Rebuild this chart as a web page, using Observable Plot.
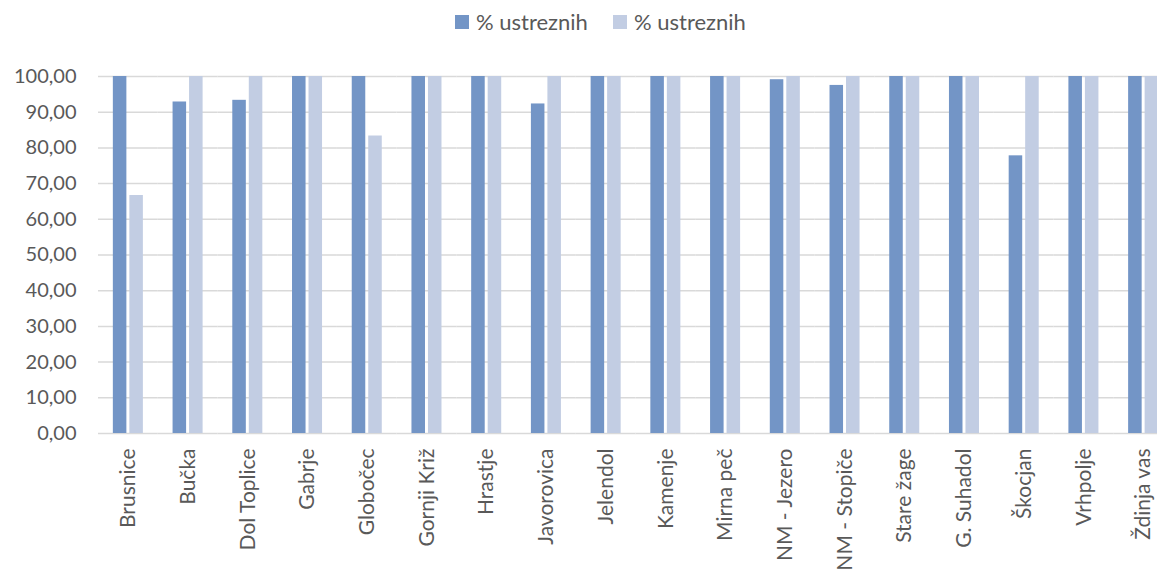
<!DOCTYPE html>
<html><head><meta charset="utf-8">
<script src="https://cdn.jsdelivr.net/npm/d3@7"></script>
<script src="https://cdn.jsdelivr.net/npm/@observablehq/plot@0.6"></script>
<style>
html,body{margin:0;padding:0;background:#fff;overflow:hidden;width:1157px;height:571px;font-family:Lato,"Noto Sans",sans-serif;color:#595959}
#legend{height:46px;position:relative;font-size:22px}
.item{position:absolute;top:8px;display:flex;align-items:center;white-space:nowrap}
.sw{width:14px;height:14px;display:inline-block;margin-right:7px}
#chart{width:1157px;overflow:hidden}
#chart svg{max-width:none !important}
</style></head>
<body><div id="legend"></div><div id="chart"></div>
<script>
const locations = ["Brusnice","Bučka","Dol Toplice","Gabrje","Globočec","Gornji Križ","Hrastje","Javorovica","Jelendol","Kamenje","Mirna peč","NM - Jezero","NM - Stopiče","Stare žage","G. Suhadol","Škocjan","Vrhpolje","Ždinja vas"];
const seriesKeys = ["s1","s2"];
const seriesLabels = ["% ustreznih","% ustreznih"];
const seriesColors = ["#7395c6","#c2cde3"];
const values1 = [100,92.86,93.33,100,100,100,100,92.31,100,100,100,99.1,97.5,100,100,77.78,100,100];
const values2 = [66.67,100,100,100,83.33,100,100,100,100,100,100,100,100,100,100,100,100,100];
const yTicks = [0,10,20,30,40,50,60,70,80,90,100];

const data = [];
locations.forEach((loc,i)=>{
  data.push({loc, series:"s1", value:values1[i]});
  data.push({loc, series:"s2", value:values2[i]});
});

const legend = document.getElementById("legend");
const legendX = [455, 613];
seriesKeys.forEach((k,i)=>{
  const it = document.createElement("div");
  it.className="item"; it.style.left = legendX[i]+"px";
  it.innerHTML = `<span class="sw" style="background:${seriesColors[i]}"></span><span>${seriesLabels[i]}</span>`;
  legend.appendChild(it);
});

const chart = Plot.plot({
  width: 1173, height: 525,
  marginLeft: 98, marginRight: 0, marginTop: 30, marginBottom: 138,
  style: {fontFamily: "Lato, 'Noto Sans', sans-serif", fontSize: "20px", color: "#595959", background: "#fff", maxWidth: "none"},
  fx: {domain: locations, padding: 0, round: false, axis: null},
  x: {domain: seriesKeys, paddingInner: 0.18, paddingOuter: 0.9, round: false, axis: null},
  y: {domain: [0,100], axis: null},
  color: {domain: seriesKeys, range: seriesColors},
  marks: [
    Plot.ruleY(yTicks, {stroke: "#d9d9d9", strokeWidth: 1.5}),
    Plot.barY(data, {fx: "loc", x: "series", y: "value", fill: "series"}),
    Plot.axisY({ticks: yTicks, tickFormat: d => d.toFixed(2).replace(".", ","), tickSize: 0, tickPadding: 22, label: null, fontSize: 20, fill: "#595959"}),
    Plot.axisFx({anchor: "bottom", tickRotate: -90, tickSize: 0, tickPadding: 15, label: null, fontSize: 21, fill: "#595959"})
  ]
});
document.getElementById("chart").appendChild(chart);
</script>
</body></html>
